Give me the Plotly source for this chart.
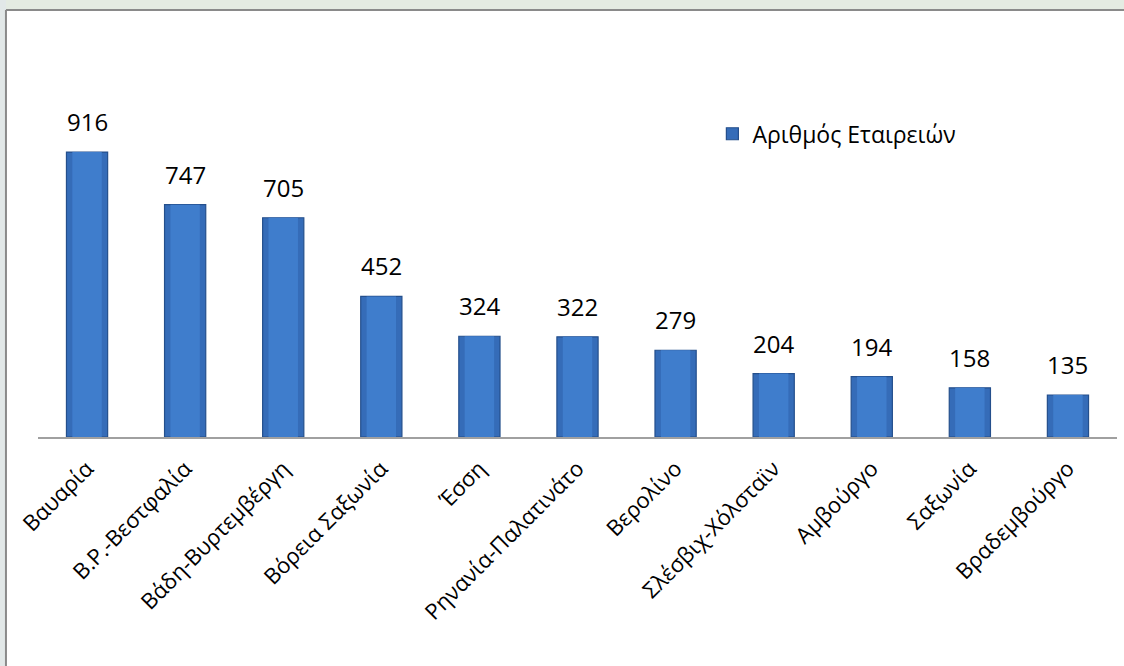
import plotly.graph_objects as go

categories = ['Βαυαρία', 'Β.Ρ.-Βεστφαλία', 'Βάδη-Βυρτεμβέργη', 'Βόρεια Σαξωνία', 'Έσση',
              'Ρηνανία-Παλατινάτο', 'Βερολίνο', 'Σλέσβιχ-Χόλσταϊν', 'Αμβούργο', 'Σαξωνία',
              'Βραδεμβούργο']
values = [916, 747, 705, 452, 324, 322, 279, 204, 194, 158, 135]
series_name = 'Αριθμός Εταιρειών'

FONT = 'Open Sans'

fig = go.Figure()
fig.add_trace(go.Bar(
    x=categories, y=values, name=series_name,
    width=0.42,
    marker=dict(color='#356cb8', line=dict(color='#244f8c', width=1.2)),
    hoverinfo='x+y',
))
# inner face to emulate the bevel
fig.add_trace(go.Bar(
    x=categories, y=values, width=0.30, showlegend=False, hoverinfo='skip',
    marker=dict(color='#3f7dcc', line=dict(width=0)),
))

for c, v in zip(categories, values):
    fig.add_annotation(x=c, y=v, text=str(v), showarrow=False, yanchor='bottom',
                       yshift=12, font=dict(family=FONT, size=24, color='#000000'))

# outer frame: light strips on top and left, grey border of the chart area
frame_shapes = [
    dict(type='rect', x0=-0.2, x1=1.2, y0=1.373, y1=1.6, fillcolor='#e4ebe2'),
    dict(type='rect', x0=-0.2, x1=-0.0297, y0=-1.0, y1=1.6, fillcolor='#e2e8e8'),
]
for s in frame_shapes:
    fig.add_shape(xref='paper', yref='paper', line=dict(width=0), layer='below', **s)
fig.add_shape(type='line', xref='paper', yref='paper', x0=-0.0297, x1=1.2,
              y0=1.373, y1=1.373, line=dict(color='#8a8a8a', width=2))
fig.add_shape(type='line', xref='paper', yref='paper', x0=-0.0297, x1=-0.0297,
              y0=-1.0, y1=1.373, line=dict(color='#8a8a8a', width=2))

fig.update_layout(
    width=1124, height=666,
    margin=dict(l=38, r=7, t=126, b=229, autoexpand=False),
    paper_bgcolor='white', plot_bgcolor='rgba(0,0,0,0)',
    barmode='overlay',
    font=dict(family=FONT, color='#000000'),
    showlegend=True,
    legend=dict(x=0.625, y=0.975, xanchor='left', yanchor='middle',
                font=dict(family=FONT, size=23), bgcolor='rgba(0,0,0,0)',
                itemwidth=30),
    xaxis=dict(showline=True, linecolor='#a0a0a0', linewidth=2, ticks='',
               tickangle=-45, tickfont=dict(family=FONT, size=22), automargin=False,
               ticklabelstandoff=8,
               showgrid=False, zeroline=False, fixedrange=True),
    yaxis=dict(range=[0, 1000], visible=False, showgrid=False, zeroline=False,
               automargin=False, fixedrange=True),
)

fig.write_html('out.html', config={'displayModeBar': False},
               post_script="document.body.style.margin='0';document.body.style.overflow='hidden';")
